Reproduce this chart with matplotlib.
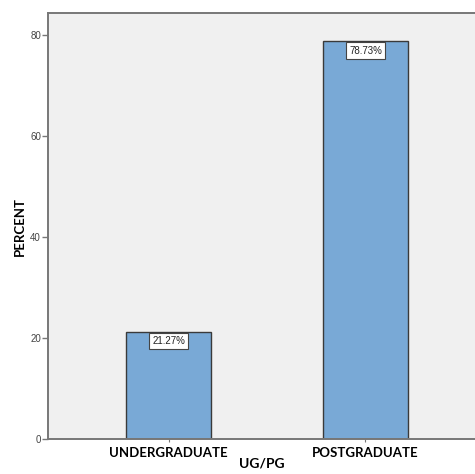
import matplotlib
matplotlib.use("Agg")
import matplotlib.pyplot as plt
import numpy as np

categories = ["UNDERGRADUATE", "POSTGRADUATE"]
percent = [21.27, 78.73]
yticks = [0, 20, 40, 60, 80]

narrow = ["Liberation Sans Narrow", "Liberation Sans", "DejaVu Sans"]

fig = plt.figure(figsize=(4.75, 4.74), dpi=100)
fig.patch.set_facecolor("white")
ax = fig.add_axes([48 / 475, 35 / 474, 1 - 48 / 475, 426 / 474])
ax.set_facecolor("#f0f0f0")

x = np.arange(len(categories))
bars = ax.bar(x, percent, width=0.431, color="#79a9d6", edgecolor="#3a3a3a",
              linewidth=1.0, zorder=2)

# value boxes hang from the top edge of each bar
for rect, val in zip(bars, percent):
    ax.text(rect.get_x() + rect.get_width() / 2, val - 0.9, f"{val:.2f}%",
            ha="center", va="top", fontsize=7, family=narrow, color="#222222",
            bbox=dict(boxstyle="square,pad=0.35", fc="white", ec="#444444", lw=0.8),
            zorder=3)

ax.set_xlim(-0.612, 1.556)
ax.set_ylim(0, 84.3)
ax.set_xticks(x)
ax.set_xticklabels(categories, fontsize=9.5, fontweight="bold", family="Lato")
ax.set_yticks(yticks)
ax.set_yticklabels([str(t) for t in yticks], fontsize=7, family=narrow, color="#444444")
ax.tick_params(axis="y", length=4, width=1, color="#777777", pad=1)
ax.tick_params(axis="x", length=2, width=0.8, color="#777777", pad=4)

for side in ["left", "bottom", "top"]:
    ax.spines[side].set_color("#777777")
    ax.spines[side].set_linewidth(1.4)
ax.spines["right"].set_visible(False)

ax.set_xlabel("UG/PG", fontsize=10, fontweight="bold", family="Lato")
ax.set_ylabel("PERCENT", fontsize=9.5, fontweight="bold", family="Lato")
ax.xaxis.set_label_coords(0.5, -0.043)
ax.yaxis.set_label_coords(-0.052, 0.5)

fig.savefig("out.png", dpi=100)
